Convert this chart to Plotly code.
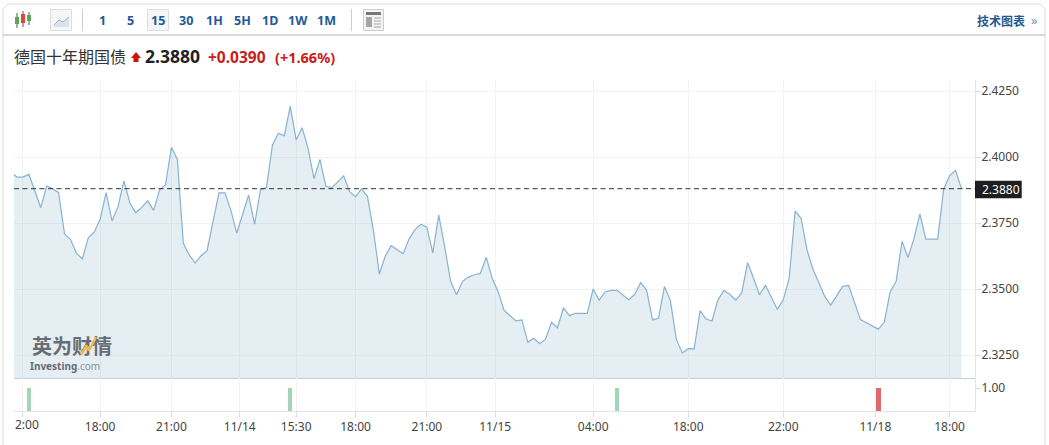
# German 10 year bund, 15 min chart, investing.com style
import plotly.graph_objects as go

W = 1049
H = 445

# close values, first one sits just outside the left edge of the pane
closes = [
    2.3942, 2.3924, 2.3924, 2.3934, 2.3872, 2.3808, 2.3890, 2.3880, 2.3865, 2.3709,
    2.3688, 2.3636, 2.3614, 2.3694, 2.3715, 2.3764, 2.3865, 2.3758, 2.3811, 2.3910,
    2.3826, 2.3789, 2.3809, 2.3834, 2.3798, 2.3875, 2.3895, 2.4037, 2.3991, 2.3673,
    2.3629, 2.3598, 2.3626, 2.3645, 2.3755, 2.3864, 2.3864, 2.3799, 2.3712, 2.3787,
    2.3856, 2.3746, 2.3876, 2.3884, 2.4045, 2.4090, 2.4080, 2.4193, 2.4064, 2.4111,
    2.4033, 2.3918, 2.3991, 2.3889, 2.3884, 2.3906, 2.3929, 2.3869, 2.3850, 2.3879,
    2.3850, 2.3723, 2.3557, 2.3625, 2.3664, 2.3649, 2.3634, 2.3689, 2.3725, 2.3745,
    2.3734, 2.3637, 2.3781, 2.3660, 2.3529, 2.3478, 2.3529, 2.3545, 2.3554, 2.3559,
    2.3620, 2.3541, 2.3490, 2.3419, 2.3399, 2.3379, 2.3383, 2.3298, 2.3313, 2.3293,
    2.3311, 2.3374, 2.3353, 2.3429, 2.3399, 2.3408, 2.3408, 2.3408, 2.3500, 2.3458,
    2.3489, 2.3495, 2.3495, 2.3476, 2.3459, 2.3480, 2.3524, 2.3495, 2.3383, 2.3389,
    2.3510, 2.3456, 2.3309, 2.3258, 2.3274, 2.3273, 2.3418, 2.3386, 2.3379, 2.3459,
    2.3494, 2.3480, 2.3458, 2.3485, 2.3600, 2.3541, 2.3478, 2.3514, 2.3469, 2.3423,
    2.3459, 2.3541, 2.3795, 2.3768, 2.3648, 2.3575, 2.3524, 2.3471, 2.3439, 2.3475,
    2.3510, 2.3514, 2.3447, 2.3384, 2.3372, 2.3359, 2.3348, 2.3374, 2.3490, 2.3529,
    2.3681, 2.3619, 2.3691, 2.3785, 2.3689, 2.3689, 2.3689, 2.3878, 2.3929, 2.3950,
    2.3880,
]
bar_index = list(range(-1, len(closes) - 1))
last_close = 2.3880

price_ticks = [2.325, 2.35, 2.375, 2.40, 2.425]

time_tick_pos = [1, 14, 26, 37.5, 47, 57, 69, 80.5, 97, 113, 129, 144.5, 157]
time_tick_text = ["", "18:00", "21:00", "11/14", "15:30", "18:00", "21:00",
                  "11/15", "04:00", "18:00", "22:00", "11/18", "18:00"]

signal_index = [2, 46, 101, 145]
signal_value = [1, 1, 1, 1]
signal_color = ["#a3d5b7", "#a3d5b7", "#a3d5b7", "#e06a6a"]

intervals = ["1", "5", "15", "30", "1H", "5H", "1D", "1W", "1M"]
interval_x = [102, 130, 158, 186, 214, 242, 270, 298, 326]

BLUE = "#1f5a96"
RED = "#c8201a"
SANS = "Noto Sans, Noto Sans CJK SC, sans-serif"
CJK = "Noto Sans CJK SC, sans-serif"

# pixel helpers for the page furniture
def px(x):
    return x / W

def py(y):
    return 1 - y / H

shapes = []
notes = []

def box(x0, y0, x1, y1, fill=None, line=None, width=1):
    shapes.append(dict(type="rect", xref="paper", yref="paper",
                       x0=px(x0), x1=px(x1), y0=py(y0), y1=py(y1),
                       fillcolor=fill, line=dict(color=line, width=width if line else 0)))

def seg(x0, y0, x1, y1, color, width=1):
    shapes.append(dict(type="line", xref="paper", yref="paper",
                       x0=px(x0), x1=px(x1), y0=py(y0), y1=py(y1),
                       line=dict(color=color, width=width)))

def poly(points, fill=None, line=None, width=1, close=True):
    path = "M " + " L ".join(f"{px(x):.5f},{py(y):.5f}" for x, y in points)
    shapes.append(dict(type="path", xref="paper", yref="paper", path=path + (" Z" if close else ""),
                       fillcolor=fill, line=dict(color=line, width=width if line else 0)))

def label(x, y, text, size, color, anchor="left", family=SANS):
    # annotations sit a little right of the asked x when left anchored
    if anchor == "left":
        x = x - 1.5
    notes.append(dict(xref="paper", yref="paper", x=px(x), y=py(y), text=text,
                      showarrow=False, xanchor=anchor, yanchor="middle", borderpad=0,
                      font=dict(size=size, color=color, family=family)))

# strokes drawn with the annotation layer so they land on top of the watermark text
def stroke(x0, y0, x1, y1, color, width=2.5):
    notes.append(dict(xref="paper", yref="paper", x=px(x1), y=py(y1), text="",
                      showarrow=True, arrowhead=0, arrowwidth=width, arrowcolor=color,
                      ax=x0 - x1, ay=y0 - y1, standoff=0, startstandoff=0))

# outer card and toolbar rule
poly([(3, 445), (3, 9), (8, 4), (1040, 4), (1045, 9), (1045, 445)], line="#dcdcdc", close=False)
seg(3, 35, 1045, 35, "#b4b4b4")

# candle icon
for x, top, bottom, body_top, body_bottom, color in [
    (17, 13, 28, 17, 24, "#5aa84f"),
    (23, 11, 27, 14, 23, "#d9483b"),
    (29, 12, 25, 15, 21, "#5aa84f"),
]:
    seg(x, top, x, bottom, "#555555")
    box(x - 2, body_top, x + 2, body_bottom, fill=color)

# line chart icon
box(50.5, 9.5, 71.5, 30.5, fill="#f4f6f8", line="#dddddd")
poly([(54, 25), (59, 20), (63, 22), (69, 17), (69, 27), (54, 27)], fill="#dbe4ec")
poly([(54, 25), (59, 20), (63, 22), (69, 17)], line="#9db6cc", close=False)

seg(82.5, 9, 82.5, 31, "#cccccc")
box(147.5, 9.5, 168.5, 30.5, fill="#f4f6f8", line="#dddddd")
for x, text in zip(interval_x, intervals):
    label(x, 20, f"<b>{text}</b>", 12.5, BLUE, "center")
seg(351.5, 9, 351.5, 31, "#cccccc")

# layout icon
box(363.5, 9.5, 383.5, 30.5, fill="#f4f4f4", line="#cccccc")
box(366, 12, 381, 15, fill="#777777")
box(366, 17, 372, 27, fill="#a5a5a5")
for y in [18, 21, 24, 27]:
    seg(374, y, 381, y, "#a5a5a5")

label(977, 20, "<b>技术图表</b>", 12, BLUE, family=CJK)
label(1031, 20, "»", 13, "#6f93b8")

# quote line
label(14, 56, "德国十年期国债", 16, "#333333", family=CJK)
poly([(136, 52), (141, 58), (138.5, 58), (138.5, 62), (133.5, 62), (133.5, 58), (131, 58)], fill="#d2120c")
label(145, 56, f"<b>{last_close:.4f}</b>", 17.5, "#222222")
label(208, 57, "<b>+0.0390</b>", 15.5, RED)
label(275, 57, "<b>(+1.66%)</b>", 14.5, RED)

# last price box
box(975, 180.7, 1021.7, 198.3, fill="#1e1e1e")
label(982, 189.5, f"{last_close:.4f}", 12, "#ffffff")

# watermark
label(72, 345.5, "<b>英为财情</b>", 20, "#666d72", "center", family=CJK)
label(30, 366, "<b>Investing</b><span style='color:#8b9298'>.com</span>", 10, "#666d72")
stroke(80, 356, 87, 345, "#f0b94a")
stroke(87, 345, 89, 351, "#f0b94a")
stroke(89, 351, 96, 337, "#f0b94a")

# first x label is cut by the pane edge in the original
label(15, 424, "2:00", 12, "#444444")

fig = go.Figure()
fig.add_trace(go.Scatter(
    x=bar_index, y=closes, mode="lines", fill="tozeroy",
    line=dict(color="#88b2d1", width=1.2),
    fillcolor="rgba(125,170,195,0.2)",
    hoverinfo="skip", showlegend=False,
))
fig.add_trace(go.Bar(
    x=signal_index, y=signal_value, marker=dict(color=signal_color, line=dict(width=0)),
    width=0.75, xaxis="x2", yaxis="y2", hoverinfo="skip", showlegend=False,
))

# dashed last price
shapes.append(dict(type="line", xref="paper", yref="y", x0=px(14), x1=px(975),
                   y0=last_close, y1=last_close,
                   line=dict(color="#333333", width=1, dash="5px,3.5px")))

left_k = -0.505
right_k = 161.28
grid = "#f1f3f5"

fig.update_layout(
    width=W, height=H,
    margin=dict(l=0, r=0, t=0, b=0),
    paper_bgcolor="white", plot_bgcolor="white",
    font=dict(family=SANS, size=12, color="#444444"),
    bargap=0,
    shapes=shapes, annotations=notes,
    xaxis=dict(domain=[14 / W, 975 / W], range=[left_k, right_k], anchor="y",
               tickvals=time_tick_pos, ticktext=[""] * len(time_tick_pos),
               showgrid=True, gridcolor=grid, gridwidth=1, zeroline=False,
               showline=True, linecolor="#c6cdd3", linewidth=1, ticks=""),
    yaxis=dict(domain=[1 - 378 / H, 1 - 80 / H], range=[2.31629, 2.42917], side="right", anchor="x",
               tickvals=price_ticks, tickformat=".4f",
               showgrid=True, gridcolor=grid, gridwidth=1, zeroline=False,
               showline=True, linecolor="#e3e6e9", ticks="outside", ticklen=5, tickcolor="#d8dcdf",
               ticklabelstandoff=-2,
               tickfont=dict(size=12, color="#444444")),
    xaxis2=dict(domain=[14 / W, 975 / W], range=[left_k, right_k], anchor="y2",
                tickvals=time_tick_pos, ticktext=time_tick_text,
                tickangle=0,
                showgrid=True, gridcolor=grid, gridwidth=1, zeroline=False,
                showline=True, linecolor="#e3e6e9", linewidth=1,
                ticks="outside", ticklen=5, tickcolor="#d8dcdf",
                tickfont=dict(size=12, color="#444444")),
    yaxis2=dict(domain=[1 - 411 / H, 1 - 378 / H], range=[0, 1.435], side="right", anchor="x2",
                tickvals=[1], ticktext=["1.00"], showgrid=False, zeroline=False,
                showline=True, linecolor="#e3e6e9", ticks="outside", ticklen=5, tickcolor="#d8dcdf",
                ticklabelstandoff=-2,
                tickfont=dict(size=12, color="#444444")),
)

fig.write_html("out.html", config=dict(displayModeBar=False),
               post_script="document.body.style.margin='0';")
